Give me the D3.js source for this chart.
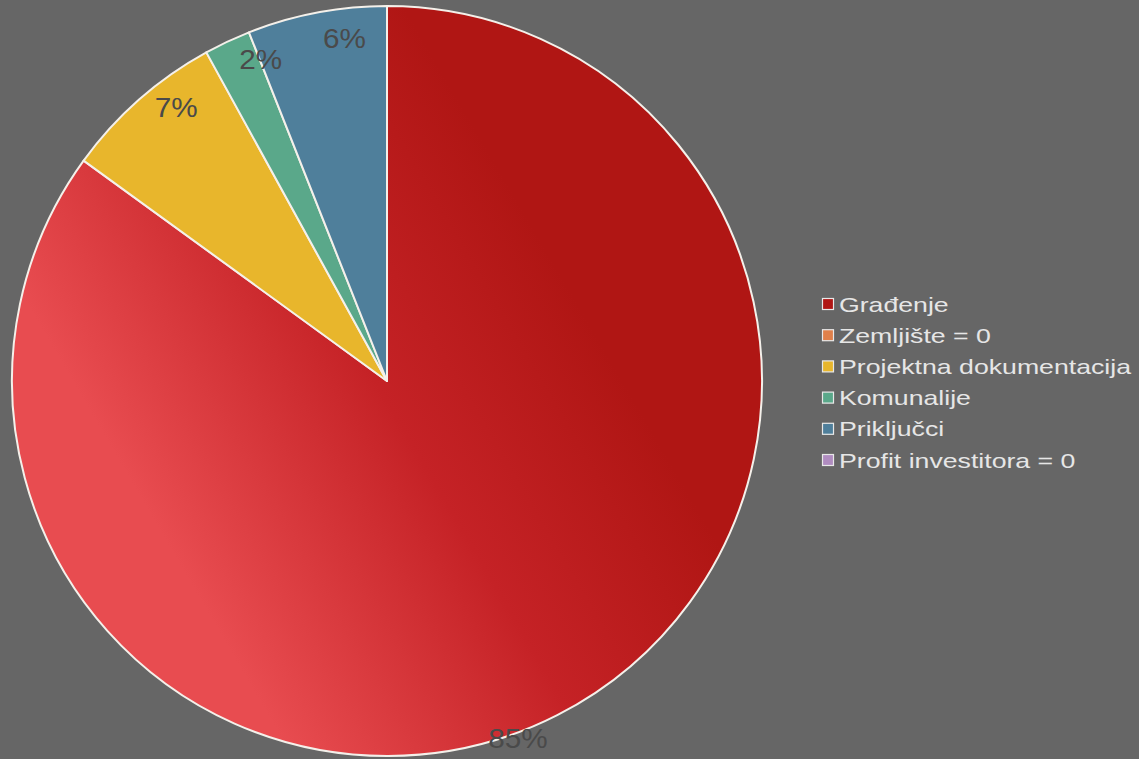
<!DOCTYPE html>
<html>
<head>
<meta charset="utf-8">
<script src="https://cdn.jsdelivr.net/npm/d3@7"></script>
<style>
  body { margin: 0; background: #666666; }
  svg { display: block; }
</style>
</head>
<body>
<div id="chart"></div>
<script>
// data
var categories = ["Građenje", "Zemljište = 0", "Projektna dokumentacija", "Komunalije", "Priključci", "Profit investitora = 0"];
var values = [85, 0, 7, 2, 6, 0];
var percentLabels = ["85%", "", "7%", "2%", "6%", ""];
var colors = ["#b01614", "#e0804a", "#e8b62c", "#5aa88a", "#4f7f9b", "#b08cc0"];

var svgWidth = 1139;
var svgHeight = 759;

var cx = 387, cy = 381, radius = 375;

var svg = d3.select("#chart")
  .append("svg")
  .attr("width", svgWidth)
  .attr("height", svgHeight);

svg.append("rect")
  .attr("width", svgWidth)
  .attr("height", svgHeight)
  .attr("fill", "#666666");

// gradient for the big slice (brighter at lower left)
var defs = svg.append("defs");
var grad = defs.append("linearGradient")
  .attr("id", "redGrad")
  .attr("gradientUnits", "userSpaceOnUse")
  .attr("x1", 60).attr("y1", 640)
  .attr("x2", 470).attr("y2", 400);
grad.append("stop").attr("offset", "0").attr("stop-color", "#e84c50");
grad.append("stop").attr("offset", "0.55").attr("stop-color", "#c52226");
grad.append("stop").attr("offset", "1").attr("stop-color", "#b01614");

var data = categories.map(function(c, i) {
  return { name: c, value: values[i], label: percentLabels[i], color: colors[i] };
});

var pie = d3.pie()
  .sort(null)
  .value(d => d.value);

var arc = d3.arc()
  .innerRadius(0)
  .outerRadius(radius);

var arcs = pie(data);

var chartGroup = svg.append("g")
  .attr("transform", `translate(${cx}, ${cy})`);

chartGroup.selectAll("path")
  .data(arcs.filter(d => d.data.value > 0))
  .enter()
  .append("path")
  .attr("d", arc)
  .attr("fill", (d, i) => d.index === 0 ? "url(#redGrad)" : d.data.color)
  .attr("stroke", "#f4f0ea")
  .attr("stroke-width", 2)
  .attr("stroke-linejoin", "round");

// percent labels near the outer edge
chartGroup.selectAll("text.pct")
  .data(arcs.filter(d => d.data.value > 0))
  .enter()
  .append("text")
  .attr("class", "pct")
  .each(function(d) {
    var mid = (d.startAngle + d.endAngle) / 2 + 0.065;
    var r = radius * 0.92;
    if (d.endAngle - d.startAngle > Math.PI) {
      // big slice: label sits on the rim, shifted round
      mid = (d.startAngle + d.endAngle) / 2 + 0.12;
      r = radius * 1.015;
    }
    var x = Math.sin(mid) * r, y = -Math.cos(mid) * r;
    d3.select(this)
      .attr("transform", `translate(${x}, ${y}) scale(1.1, 1)`);
  })
  .attr("text-anchor", "middle")
  .attr("dy", "0.35em")
  .attr("font-family", "Liberation Sans, Arial, sans-serif")
  .attr("font-size", 27)
  .attr("fill", "#4a4a4a")
  .text(d => d.data.label);

// legend
var legend = svg.append("g")
  .attr("transform", "translate(822, 304)");

var rowH = 31.2;

var rows = legend.selectAll("g")
  .data(data)
  .enter()
  .append("g")
  .attr("transform", (d, i) => `translate(0, ${i * rowH})`);

rows.append("rect")
  .attr("x", 0.5)
  .attr("y", -5.5)
  .attr("width", 11)
  .attr("height", 11)
  .attr("fill", d => d.color)
  .attr("stroke", "#e8e8e8")
  .attr("stroke-width", 1.2);

rows.append("text")
  .attr("transform", "translate(17, 0) scale(1.27, 1)")
  .attr("dy", "0.36em")
  .attr("font-family", "Liberation Sans, Arial, sans-serif")
  .attr("font-size", 21)
  .attr("fill", "#e6e6e6")
  .text(d => d.name);
</script>
</body>
</html>
